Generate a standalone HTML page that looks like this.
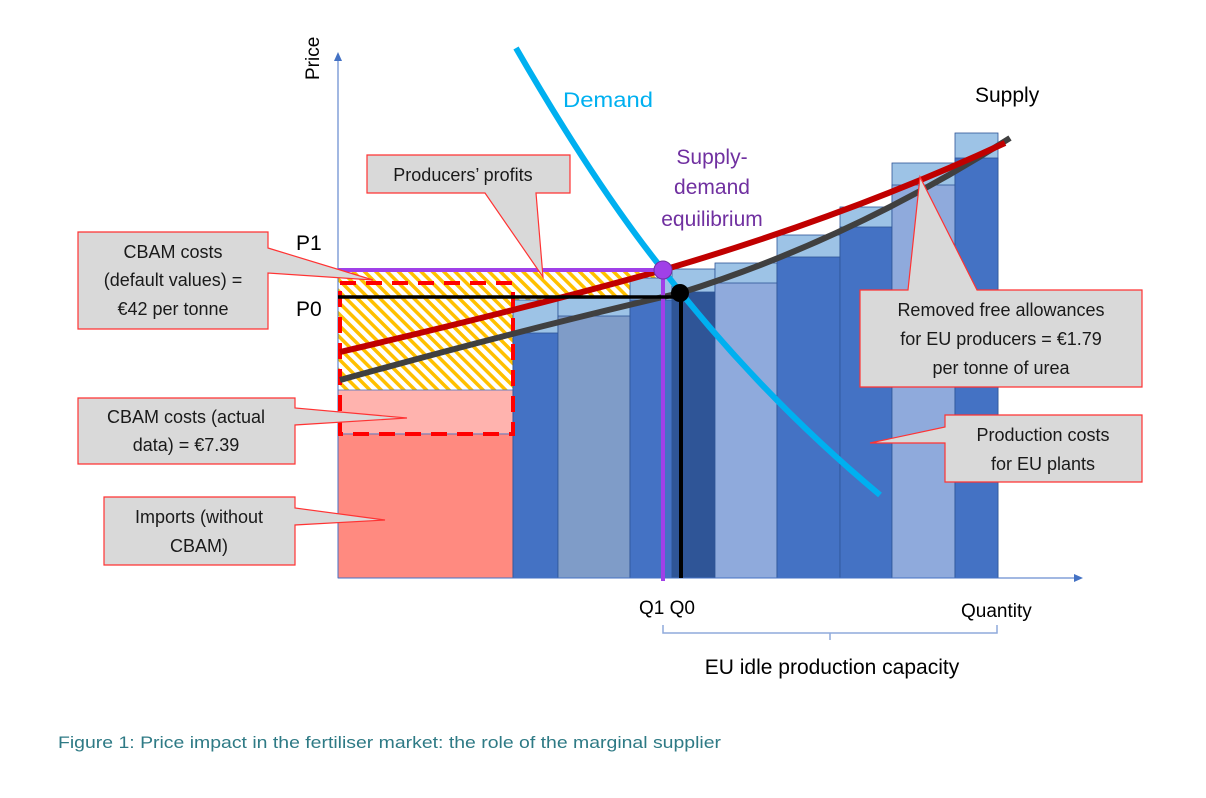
<!DOCTYPE html>
<html><head><meta charset="utf-8"><style>
html,body{margin:0;padding:0;background:#fff;width:1206px;height:798px;overflow:hidden}
svg{display:block}
text{font-family:"Liberation Sans",sans-serif}
</style></head><body>
<svg width="1206" height="798" viewBox="0 0 1206 798" xmlns="http://www.w3.org/2000/svg">
<defs>
<pattern id="h" patternUnits="userSpaceOnUse" width="8" height="8" patternTransform="rotate(-45)">
<rect width="8" height="8" fill="#fff"/><rect width="3.5" height="8" fill="#FFC000"/>
</pattern>
</defs>
<rect x="338" y="270" width="325" height="120" fill="url(#h)"/>
<rect x="338" y="390" width="175" height="44" fill="#FFB3AE" stroke="#4472C4" stroke-width="0.8"/>
<rect x="338" y="434" width="175" height="144" fill="#FF8A80" stroke="#4472C4" stroke-width="0.8"/>
<g stroke="#2F5597" stroke-width="0.8">
<rect x="513" y="300" width="45" height="278" fill="#9DC3E6"/><rect x="513" y="333" width="45" height="245" fill="#4472C4"/>
<rect x="558" y="298" width="72" height="280" fill="#9DC3E6"/><rect x="558" y="316" width="72" height="262" fill="#7F9CC8"/>
<rect x="630" y="278" width="42" height="300" fill="#9DC3E6"/><rect x="630" y="300" width="42" height="278" fill="#4472C4"/>
<rect x="672" y="269" width="43" height="309" fill="#9DC3E6"/><rect x="672" y="292" width="43" height="286" fill="#2F5597"/>
<rect x="715" y="263" width="62" height="315" fill="#9DC3E6"/><rect x="715" y="283" width="62" height="295" fill="#8FAADC"/>
<rect x="777" y="235" width="63" height="343" fill="#9DC3E6"/><rect x="777" y="257" width="63" height="321" fill="#4472C4"/>
<rect x="840" y="207" width="52" height="371" fill="#9DC3E6"/><rect x="840" y="227" width="52" height="351" fill="#4472C4"/>
<rect x="892" y="163" width="63" height="415" fill="#9DC3E6"/><rect x="892" y="185" width="63" height="393" fill="#8FAADC"/>
<rect x="955" y="133" width="43" height="445" fill="#9DC3E6"/><rect x="955" y="158" width="43" height="420" fill="#4472C4"/>
</g>
<line x1="338" y1="578" x2="338" y2="58" stroke="#4472C4" stroke-width="1"/>
<polygon points="338,52 334,61 342,61" fill="#4472C4"/>
<line x1="338" y1="578" x2="1076" y2="578" stroke="#4472C4" stroke-width="1"/>
<polygon points="1083,578 1074,574 1074,582" fill="#4472C4"/>
<rect x="340" y="283" width="173" height="151" fill="none" stroke="#FF0000" stroke-width="4" stroke-dasharray="16,10"/>
<path d="M340,380 Q520,330 680,293 Q850,240 1010,138" fill="none" stroke="#404040" stroke-width="6"/>
<path d="M340,352 Q520,310 663,270 Q850,215 1005,143" fill="none" stroke="#C00000" stroke-width="6"/>
<path d="M516,48 Q595,185 663,270 Q760,395 880,495" fill="none" stroke="#00B0F0" stroke-width="6"/>
<line x1="338" y1="270" x2="663" y2="270" stroke="#A040E8" stroke-width="4"/>
<line x1="663" y1="270" x2="663" y2="581" stroke="#A040E8" stroke-width="4"/>
<line x1="338" y1="297" x2="680" y2="297" stroke="#000" stroke-width="3.5"/>
<line x1="681" y1="293" x2="681" y2="578" stroke="#000" stroke-width="4"/>
<circle cx="680" cy="293" r="9" fill="#000"/>
<circle cx="663" cy="270" r="9" fill="#A040E8" stroke="#7030A0" stroke-width="1"/>
<g fill="#D9D9D9" stroke="#FF3333" stroke-width="1.2">
<path d="M78,232 H268 V248 L373,280 L268,273 V329 H78 Z"/>
<path d="M367,155 H570 V193 H536 L543,277 L485,193 H367 Z"/>
<path d="M78,398 H295 V408 L407,418 L295,425 V464 H78 Z"/>
<path d="M104,497 H295 V508 L385,520 L295,525 V565 H104 Z"/>
<path d="M860,290 H908 L920,177 L977,290 H1142 V387 H860 Z"/>
<path d="M945,415 H1142 V482 H945 V443 L870,443 L945,427 Z"/>
</g>
<g font-size="18" fill="#1a1a1a" text-anchor="middle">
<text x="173" y="258">CBAM costs</text>
<text x="173" y="286">(default values) =</text>
<text x="173" y="315">€42 per tonne</text>
<text x="463" y="181">Producers’ profits</text>
<text x="186" y="423">CBAM costs (actual</text>
<text x="186" y="451">data) = €7.39</text>
<text x="199" y="523">Imports (without</text>
<text x="199" y="552">CBAM)</text>
<text x="1001" y="316">Removed free allowances</text>
<text x="1001" y="345">for EU producers = €1.79</text>
<text x="1001" y="374">per tonne of urea</text>
<text x="1043" y="441">Production costs</text>
<text x="1043" y="470">for EU plants</text>
</g>
<g font-size="21">
<text x="563" y="107" fill="#00B0F0" textLength="90" lengthAdjust="spacingAndGlyphs">Demand</text>
<text x="975" y="102" fill="#000">Supply</text>
<g fill="#7030A0" text-anchor="middle"><text x="712" y="164">Supply-</text><text x="712" y="194">demand</text><text x="712" y="226">equilibrium</text></g>
<text x="296" y="250" fill="#000">P1</text>
<text x="296" y="316" fill="#000">P0</text>
<text x="639" y="614" fill="#000" font-size="19">Q1 Q0</text>
<text x="961" y="617" fill="#000" font-size="19">Quantity</text>
<text x="832" y="674" fill="#000" text-anchor="middle">EU idle production capacity</text>
<text transform="translate(319,80) rotate(-90)" fill="#000" font-size="19">Price</text>
</g>
<path d="M663,625 V633 H997 V625 M830,633 V640" fill="none" stroke="#8FAADC" stroke-width="1.5"/>
<text x="58" y="748" font-size="17" fill="#2E7A85" textLength="663" lengthAdjust="spacingAndGlyphs">Figure 1: Price impact in the fertiliser market: the role of the marginal supplier</text>
</svg>
</body></html>
